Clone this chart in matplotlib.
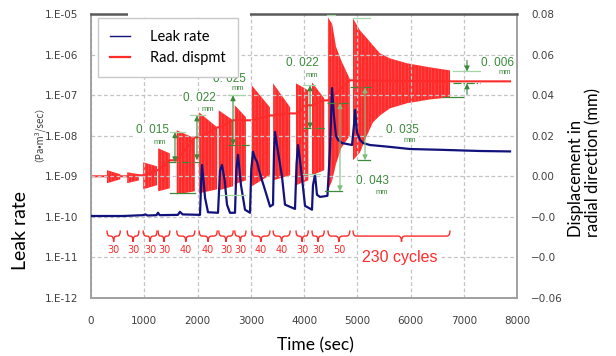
import matplotlib
matplotlib.use("Agg")
import matplotlib.pyplot as plt
import matplotlib.transforms as mtransforms
from matplotlib.path import Path
from matplotlib.patches import PathPatch, Rectangle
from matplotlib.lines import Line2D
from matplotlib.ticker import NullLocator

# ---------------- data ----------------
# Leak rate (Pa*m3/sec) vs time (sec)
leak_t = [0, 600, 977, 1020, 1060, 1230, 1258, 1290, 1630, 1671,
          1720, 2047, 2070, 2085, 2110, 2141, 2197, 2385, 2410, 2423,
          2460, 2510, 2554, 2610, 2704, 2730, 2761, 2817, 2892, 2986,
          3010, 3042, 3080, 3117, 3155, 3211, 3268, 3362, 3418, 3437,
          3455, 3512, 3587, 3643, 3831, 3860, 3887, 3925, 3981, 4019,
          4150, 4169, 4207, 4244, 4301, 4440, 4488, 4526, 4563, 4600,
          4640, 4714, 4902, 4939, 4958, 4996, 5052, 5108, 5240, 5615,
          5991, 6554, 7305, 7869]
leak_v = [1.05e-10, 1.05e-10, 1.1e-10, 1.15e-10, 1.08e-10, 1.1e-10, 1.26e-10, 1.1e-10, 1.12e-10, 1.33e-10,
          1.15e-10, 1.12e-10, 8e-10, 1.9e-9, 9e-10, 3e-10, 1.3e-10, 1.26e-10, 6e-10, 1.4e-9,
          1.9e-9, 8e-10, 2e-10, 1.26e-10, 1.26e-10, 1.5e-9, 3.4e-9, 6e-10, 1.5e-10, 1.26e-10,
          1.5e-9, 4.0e-9, 2.8e-9, 2.3e-9, 1.44e-9, 8e-10, 4.6e-10, 1.8e-10, 2e-10, 4e-9,
          1.24e-8, 4e-9, 9.7e-10, 2e-10, 1.57e-10, 2.0e-9, 5.9e-9, 2.5e-9, 5.5e-10, 1.87e-10,
          1.5e-10, 6e-10, 1.1e-9, 3.5e-10, 3.1e-10, 3.3e-10, 4.5e-9, 1.5e-7, 3.0e-8, 1.0e-8,
          7.9e-9, 6.6e-9, 5.9e-9, 1.85e-8, 4.3e-8, 1.2e-8, 7.9e-9, 6.6e-9, 5.9e-9, 5.3e-9,
          4.7e-9, 4.5e-9, 4.2e-9, 4.1e-9]

# Radial displacement: cyclic blocks (envelope of oscillation, mm)
blk_t = [[300, 550], [680, 900], [980, 1240], [1260, 1480], [1610, 1950],
         [2030, 2370], [2400, 2670], [2700, 2910], [3020, 3360], [3420, 3740],
         [3850, 4080], [4150, 4380], [4450, 4530, 4600, 4700, 4860],
         [4920, 5052, 5183, 5296, 5427, 5615, 5934, 6366, 6742]]
blk_up = [[0.0030, 0.0010], [0.0020, 0.0010], [0.0069, 0.0049], [0.0138, 0.0113], [0.0227, 0.0187],
          [0.0315, 0.0241], [0.0325, 0.0276], [0.0350, 0.0291], [0.0448, 0.0340], [0.0458, 0.0340],
          [0.0458, 0.0424], [0.0463, 0.0384], [0.0783, 0.0750, 0.0640, 0.0570, 0.0480],
          [0.0778, 0.0719, 0.0680, 0.0645, 0.0606, 0.0581, 0.0557, 0.0537, 0.0522]]
blk_lo = [[-0.0034, -0.0015], [-0.0034, -0.0020], [-0.0064, -0.0044], [-0.0074, -0.0059], [-0.0089, -0.0074],
          [-0.0084, -0.0064], [-0.0069, -0.0049], [-0.0039, -0.0020], [-0.0049, 0.0005], [-0.0020, 0.0005],
          [-0.0044, -0.0020], [0.0005, 0.0030], [-0.0070, -0.0020, 0.0060, 0.0140, 0.0200],
          [0.0079, 0.0118, 0.0202, 0.0266, 0.0300, 0.0335, 0.0360, 0.0379, 0.0389]]
blk_cycles = [30, 30, 30, 30, 40, 40, 30, 30, 40, 40, 30, 30, 50, 230]

# mean displacement line between blocks
red_t = [0, 300, 550, 680, 900, 980, 1240, 1260, 1480, 1610, 1950, 2030, 2370, 2400, 2670,
         2700, 2910, 3020, 3360, 3420, 3740, 3850, 4080, 4150, 4380, 4450, 4860, 4920, 6742, 7869]
red_v = [0.0, 0.0, 0.0, 0.0, 0.0005, 0.0005, 0.003, 0.003, 0.0079, 0.0079, 0.0192, 0.0192, 0.0241, 0.0241, 0.0276,
         0.0276, 0.0276, 0.0276, 0.0300, 0.0300, 0.0310, 0.0310, 0.0350, 0.0350, 0.0374, 0.0374, 0.0473, 0.0473, 0.0468, 0.0468]

x_ticks = [0, 1000, 2000, 3000, 4000, 5000, 6000, 7000, 8000]
leak_ticks = [1e-12, 1e-11, 1e-10, 1e-9, 1e-8, 1e-7, 1e-6, 1e-5]
leak_tick_labels = ["1.E-12", "1.E-11", "1.E-10", "1.E-09", "1.E-08", "1.E-07", "1.E-06", "1.E-05"]
disp_ticks = [-0.06, -0.04, -0.02, 0.0, 0.02, 0.04, 0.06, 0.08]
disp_tick_labels = ["\u22120.06", "\u22120.0", "\u22120.0", "0.00", "0.02", "0.04", "0.06", "0.08"]

# ---------------- figure ----------------
plt.rcParams['hatch.linewidth'] = 0.35
W, H = 616, 356
fig = plt.figure(figsize=(W / 100, H / 100), dpi=100)
ax = fig.add_axes([91 / W, 1 - 298 / H, (517 - 91) / W, (298 - 14) / H])
ax2 = ax.twinx()
ax.set_zorder(2)
ax2.set_zorder(1)
ax.patch.set_visible(False)

RED = '#ff2b2b'
NAVY = '#12127c'
GREEN = '#3a8a3a'
LGREEN = '#a5d6a5'
TICKC = '#404040'

ax.set_yscale('log')
ax.set_xlim(0, 8000)
ax.set_ylim(1e-12, 1e-5)
ax2.set_ylim(-0.06, 0.08)

# displacement
for tt, uu, ll in zip(blk_t, blk_up, blk_lo):
    ax2.fill_between(tt, ll, uu, facecolor=RED, edgecolor='#ff6a6a', hatch='|||||', linewidth=0)
ax2.plot(red_t, red_v, color=RED, lw=1.5)

# leak rate
ax.plot(leak_t, leak_v, color=NAVY, lw=1.6, zorder=3)

# ticks
ax.set_xticks(x_ticks)
ax.set_xticklabels([str(v) for v in x_ticks])
ax.set_yticks(leak_ticks)
ax.set_yticklabels(leak_tick_labels)
ax.yaxis.set_minor_locator(NullLocator())
ax2.set_yticks(disp_ticks)
ax2.set_yticklabels(disp_tick_labels)
ax.tick_params(axis='y', length=0, labelsize=7.5, colors=TICKC, pad=9)
ax.tick_params(axis='x', length=0, labelsize=7.5, colors=TICKC, pad=13)
ax2.tick_params(axis='y', length=0, labelsize=7.5, colors=TICKC, pad=10)

ax.grid(True, which='major', ls=(0, (3, 2)), color='#c4c4c4', lw=0.9)

for s in ['left', 'bottom', 'right']:
    ax.spines[s].set_color('#a0a0a0')
    ax.spines[s].set_linewidth(1.4)
ax.spines['top'].set_color('#5a5a5a')
ax.spines['top'].set_linewidth(1.8)
for s in ax2.spines.values():
    s.set_visible(False)

# legend
handles = [Line2D([], [], color=NAVY, lw=1.0), Line2D([], [], color=RED, lw=1.6)]
leg = ax.legend(handles, ['Leak rate', 'Rad. dispmt'], loc='upper left',
                bbox_to_anchor=(7 / 426, 1 - 4 / 284), borderaxespad=0,
                frameon=True, fancybox=False, edgecolor='#c8c8c8', framealpha=1,
                prop={'family': 'Lato', 'size': 10.5}, handlelength=1.4,
                handletextpad=1.4, borderpad=0.8, labelspacing=0.5)
leg.get_frame().set_linewidth(1.0)
leg.set_zorder(10)

# white gap on top spine (behind legend box area)
fig.add_artist(Rectangle((128 / W, 1 - 17 / H), (250 - 128) / W, 6 / H,
                         transform=fig.transFigure, facecolor='white', edgecolor='none', zorder=20))

# ---------------- braces with cycle counts ----------------
btr = mtransforms.blended_transform_factory(ax.transData, ax.transAxes)


def brace(x0, x1, yb, h, dx):
    xm = 0.5 * (x0 + x1)
    verts = [(x0, yb + h), (x0, yb), (x0 + dx, yb),
             (xm - dx, yb), (xm, yb), (xm, yb - h),
             (xm, yb), (xm + dx, yb),
             (x1 - dx, yb), (x1, yb), (x1, yb + h)]
    codes = [Path.MOVETO, Path.CURVE3, Path.CURVE3,
             Path.LINETO, Path.CURVE3, Path.CURVE3,
             Path.CURVE3, Path.CURVE3,
             Path.LINETO, Path.CURVE3, Path.CURVE3]
    p = PathPatch(Path(verts, codes), transform=btr, fill=False, edgecolor=RED, lw=1.0, zorder=4)
    ax.add_patch(p)


for tt, n in zip(blk_t, blk_cycles):
    t0, t1 = tt[0], tt[-1]
    dx = min(60, (t1 - t0) / 5)
    brace(t0, t1, 0.218, 0.02, dx)
    if n != 230:
        ax.text(0.5 * (t0 + t1), 0.168, str(n), transform=btr, ha='center', va='center',
                fontsize=7, color=RED, family='DejaVu Sans', zorder=4)
    else:
        ax.text(0.5 * (t0 + t1) - 30, 0.143, f"{n} cycles", transform=btr, ha='center', va='center',
                fontsize=11.5, color=RED, family='Liberation Sans', zorder=4,
                bbox=dict(facecolor='white', edgecolor='none', pad=1.5))

# ---------------- green dimension annotations ----------------
T2 = ax2.transData


def hl(t0, t1, d, color, ls='-', lw=0.9):
    ax.add_artist(Line2D([t0, t1], [d, d], transform=T2, color=color, ls=ls, lw=lw, zorder=6))


def arrow(t, d0, d1, color=GREEN, style='<|-|>'):
    ax.annotate('', xy=(t, d1), xytext=(t, d0), xycoords=T2, textcoords=T2,
                arrowprops=dict(arrowstyle=style + ',head_length=0.3,head_width=0.15',
                                color=color, lw=0.8, shrinkA=0, shrinkB=0), zorder=6)


def label(t, d, s, tm, dm):
    ax.text(t, d, s, transform=T2, ha='center', va='center', fontsize=8.5, color=GREEN,
            family='Liberation Sans', zorder=8,
            bbox=dict(facecolor='white', edgecolor='none', pad=0.8))
    ax.text(tm, dm, 'mm', transform=T2, ha='center', va='center', fontsize=5.5, color=GREEN,
            family='Liberation Sans', zorder=8)


# 0.015
hl(1484, 1765, 0.0217, LGREEN)
hl(1446, 2047, 0.0069, GREEN, ls='-.')
arrow(1577, 0.0217, 0.0069)
hl(1484, 1953, -0.0084, GREEN)
label(1146, 0.0227, '0. 015', 1296, 0.0167)
# 0.022 (left)
hl(1859, 2141, 0.0300, LGREEN)
arrow(1990, 0.0300, 0.0079)
hl(2420, 2900, -0.0094, LGREEN)
label(2028, 0.0384, '0. 022', 2197, 0.0330)
# 0.025
hl(2573, 2892, 0.0399, LGREEN)
arrow(2667, 0.0399, 0.0153)
hl(2573, 2986, 0.0153, GREEN, ls='-.')
label(2592, 0.0478, '0. 025', 2761, 0.0434)
# 0.022 (right)
hl(3981, 4207, 0.0448, LGREEN)
arrow(4113, 0.0448, 0.0236)
hl(3981, 4394, 0.0236, GREEN, ls='-.')
hl(3981, 4301, 0.0010, LGREEN)
label(3963, 0.0557, '0. 022', 4150, 0.0498)
# 0.043
hl(4432, 4826, 0.0360, GREEN, ls='-.')
arrow(4676, 0.0360, -0.0074, color='#7cbf7c')
hl(4394, 4714, -0.0074, GREEN)
hl(4432, 4582, 0.0793, LGREEN)
label(5277, -0.0025, '0. 043', 5465, -0.0079)
# 0.035
hl(4864, 5296, 0.0438, GREEN, ls='-.')
arrow(5146, 0.0438, 0.0079, color='#7cbf7c')
hl(5014, 5240, 0.0079, GREEN)
hl(4920, 5240, 0.0778, LGREEN)
label(5840, 0.0227, '0. 035', 5991, 0.0177)
# 0.006
hl(6798, 7305, 0.0517, LGREEN)
hl(6798, 7305, 0.0458, GREEN, ls='-.')
arrow(7061, 0.0571, 0.0517, style='-|>')
arrow(7061, 0.0404, 0.0458, style='-|>')
hl(6610, 6986, 0.0389, GREEN)
label(7625, 0.0557, '0. 006', 7775, 0.0512)

# ---------------- axis titles ----------------
fig.text(21 / W, 1 - 231 / H, 'Leak rate', rotation=90, ha='center', va='center',
         fontsize=14, family='Lato', color='black')
fig.text(33 / W, 1 - 129 / H, '（Pa•m³/sec）', rotation=90, ha='center', va='center',
         fontsize=7, family=['Noto Sans CJK JP', 'DejaVu Sans'], color=TICKC)
fig.text(315 / W, 1 - 345 / H, 'Time (sec)', ha='center', va='center',
         fontsize=12.5, family='Lato', color='black')
fig.text(585 / W, 1 - 163 / H, 'Displacement in\nradial direction (mm)', rotation=90,
         ha='center', va='center', multialignment='left', linespacing=1.1,
         fontsize=12, family='Lato', color='black')

fig.savefig('out.png', dpi=100)
